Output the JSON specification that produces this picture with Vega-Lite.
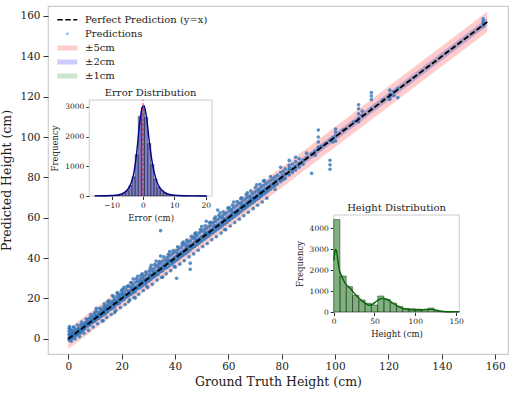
{
  "$schema": "https://vega.github.io/schema/vega-lite/v6.json",
  "width": 460,
  "height": 348,
  "autosize": {"type": "none"},
  "padding": {"left": 48, "top": 6, "right": 6, "bottom": 39},
  "background": "white",
  "config": {
    "font": "DejaVu Serif",
    "view": {"stroke": "#cccccc", "strokeWidth": 1.2},
    "axis": {"domain": false, "grid": false, "labelFlush": false, "tickColor": "#333333", "labelColor": "#222222", "titleColor": "#222222", "titleFontWeight": "normal"},
    "legend": {"labelFont": "DejaVu Serif", "labelFontSize": 10, "labelColor": "#222222"}
  },
  "datasets": {
    "pts": [
      {"g":0.3,"p":0.5},{"g":0.3,"p":2.1},{"g":0.3,"p":3.8},{"g":0.3,"p":5.2},{"g":0.3,"p":-0.4},
      {"g":0.8,"p":1.2},{"g":0.8,"p":2.9},{"g":0.8,"p":4.6},{"g":0.8,"p":0.1},
      {"g":1.5,"p":1.0},{"g":1.5,"p":2.6},{"g":1.5,"p":4.1},{"g":1.5,"p":0.2},
      {"g":2.2,"p":2.5},{"g":2.2,"p":3.9},{"g":2.2,"p":1.4},{"g":2.2,"p":5.6},
      {"g":3.0,"p":3.1},{"g":3.0,"p":4.5},{"g":3.0,"p":1.8},{"g":3.0,"p":2.2},
      {"g":3.8,"p":4.0},{"g":3.8,"p":5.4},{"g":3.8,"p":2.7},{"g":3.8,"p":3.3},
      {"g":4.6,"p":4.9},{"g":4.6,"p":6.8},{"g":4.6,"p":3.6},{"g":4.6,"p":2.9},
      {"g":5.5,"p":5.8},{"g":5.5,"p":4.2},{"g":5.5,"p":7.1},{"g":5.5,"p":5.0},
      {"g":6.3,"p":6.0},{"g":6.3,"p":7.9},{"g":6.3,"p":5.1},{"g":6.3,"p":6.6},
      {"g":7.2,"p":7.5},{"g":7.2,"p":9.6},{"g":7.2,"p":6.4},{"g":7.2,"p":8.0},
      {"g":8.0,"p":8.4},{"g":8.0,"p":6.9},{"g":8.0,"p":10.3},{"g":8.0,"p":7.8},
      {"g":8.9,"p":9.1},{"g":8.9,"p":11.2},{"g":8.9,"p":8.0},{"g":8.9,"p":9.7},
      {"g":9.7,"p":10.2},{"g":9.7,"p":8.6},{"g":9.7,"p":12.4},{"g":9.7,"p":9.3},
      {"g":10.5,"p":10.8},{"g":10.5,"p":13.9},{"g":10.5,"p":9.5},{"g":10.5,"p":11.5},{"g":10.5,"p":15.2},
      {"g":11.4,"p":11.9},{"g":11.4,"p":10.1},{"g":11.4,"p":13.0},{"g":11.4,"p":12.2},
      {"g":12.3,"p":12.0},{"g":12.3,"p":14.5},{"g":12.3,"p":11.1},{"g":12.3,"p":13.4},
      {"g":13.1,"p":13.6},{"g":13.1,"p":11.8},{"g":13.1,"p":15.9},{"g":13.1,"p":8.9},
      {"g":14.0,"p":14.2},{"g":14.0,"p":12.5},{"g":14.0,"p":16.3},{"g":14.0,"p":15.1},
      {"g":14.8,"p":15.3},{"g":14.8,"p":13.4},{"g":14.8,"p":17.0},{"g":14.8,"p":18.5},
      {"g":15.7,"p":16.0},{"g":15.7,"p":14.6},{"g":15.7,"p":17.8},{"g":15.7,"p":15.2},
      {"g":16.5,"p":16.9},{"g":16.5,"p":15.0},{"g":16.5,"p":18.7},{"g":16.5,"p":21.5},
      {"g":17.4,"p":17.1},{"g":17.4,"p":19.6},{"g":17.4,"p":15.8},{"g":17.4,"p":13.0},
      {"g":18.3,"p":18.8},{"g":18.3,"p":20.9},{"g":18.3,"p":17.2},{"g":18.3,"p":22.9},
      {"g":19.1,"p":19.5},{"g":19.1,"p":17.6},{"g":19.1,"p":21.8},{"g":19.1,"p":20.3},
      {"g":20.0,"p":20.6},{"g":20.0,"p":18.9},{"g":20.0,"p":22.4},{"g":20.0,"p":24.0},
      {"g":20.9,"p":21.2},{"g":20.9,"p":19.4},{"g":20.9,"p":23.1},{"g":20.9,"p":25.5},
      {"g":21.7,"p":22.0},{"g":21.7,"p":24.3},{"g":21.7,"p":20.5},{"g":21.7,"p":21.4},
      {"g":22.6,"p":23.5},{"g":22.6,"p":21.3},{"g":22.6,"p":26.2},{"g":22.6,"p":18.4},
      {"g":23.4,"p":23.9},{"g":23.4,"p":22.0},{"g":23.4,"p":25.8},{"g":23.4,"p":27.9},
      {"g":24.3,"p":24.8},{"g":24.3,"p":22.9},{"g":24.3,"p":26.7},{"g":24.3,"p":24.0},{"g":24.3,"p":29.7},
      {"g":25.1,"p":25.6},{"g":25.1,"p":23.4},{"g":25.1,"p":28.0},{"g":25.1,"p":20.2},
      {"g":26.0,"p":26.3},{"g":26.0,"p":28.5},{"g":26.0,"p":24.9},{"g":26.0,"p":31.0},
      {"g":26.9,"p":27.4},{"g":26.9,"p":25.3},{"g":26.9,"p":29.6},{"g":26.9,"p":27.0},
      {"g":27.7,"p":28.1},{"g":27.7,"p":26.2},{"g":27.7,"p":30.4},{"g":27.7,"p":32.2},
      {"g":28.6,"p":28.9},{"g":28.6,"p":27.1},{"g":28.6,"p":31.3},{"g":28.6,"p":29.5},
      {"g":29.4,"p":29.8},{"g":29.4,"p":27.9},{"g":29.4,"p":32.1},{"g":29.4,"p":26.0},
      {"g":30.3,"p":30.9},{"g":30.3,"p":28.7},{"g":30.3,"p":33.5},{"g":30.3,"p":30.1},
      {"g":31.1,"p":31.5},{"g":31.1,"p":29.6},{"g":31.1,"p":34.0},{"g":31.1,"p":36.5},
      {"g":32.0,"p":32.4},{"g":32.0,"p":30.5},{"g":32.0,"p":34.7},{"g":32.0,"p":33.0},
      {"g":32.9,"p":33.2},{"g":32.9,"p":31.4},{"g":32.9,"p":35.8},{"g":32.9,"p":38.6},
      {"g":33.7,"p":34.1},{"g":33.7,"p":32.0},{"g":33.7,"p":36.9},{"g":33.7,"p":33.5},
      {"g":34.6,"p":35.0},{"g":34.6,"p":33.2},{"g":34.6,"p":37.4},{"g":34.6,"p":41.0},{"g":34.6,"p":53.6},
      {"g":35.4,"p":35.9},{"g":35.4,"p":33.8},{"g":35.4,"p":38.5},{"g":35.4,"p":30.6},
      {"g":36.3,"p":36.7},{"g":36.3,"p":34.9},{"g":36.3,"p":39.2},{"g":36.3,"p":37.0},
      {"g":37.1,"p":37.6},{"g":37.1,"p":35.4},{"g":37.1,"p":40.3},{"g":37.1,"p":38.2},
      {"g":38.0,"p":38.5},{"g":38.0,"p":36.3},{"g":38.0,"p":41.1},{"g":38.0,"p":43.2},
      {"g":38.9,"p":39.3},{"g":38.9,"p":37.2},{"g":38.9,"p":42.0},{"g":38.9,"p":38.4},
      {"g":39.7,"p":40.2},{"g":39.7,"p":38.1},{"g":39.7,"p":42.8},{"g":39.7,"p":36.0},
      {"g":40.6,"p":41.0},{"g":40.6,"p":38.9},{"g":40.6,"p":43.7},{"g":40.6,"p":30.0},
      {"g":41.4,"p":41.9},{"g":41.4,"p":39.8},{"g":41.4,"p":44.5},{"g":41.4,"p":40.9},
      {"g":42.3,"p":42.8},{"g":42.3,"p":40.7},{"g":42.3,"p":45.3},{"g":42.3,"p":42.0},
      {"g":43.1,"p":43.6},{"g":43.1,"p":41.5},{"g":43.1,"p":46.4},{"g":43.1,"p":48.0},
      {"g":44.0,"p":44.5},{"g":44.0,"p":42.2},{"g":44.0,"p":47.0},{"g":44.0,"p":44.0},
      {"g":44.9,"p":45.3},{"g":44.9,"p":43.1},{"g":44.9,"p":47.9},{"g":44.9,"p":45.8},
      {"g":45.7,"p":46.2},{"g":45.7,"p":44.0},{"g":45.7,"p":48.6},{"g":45.7,"p":34.5},{"g":45.7,"p":37.5},
      {"g":46.6,"p":47.0},{"g":46.6,"p":45.1},{"g":46.6,"p":49.8},{"g":46.6,"p":46.4},
      {"g":47.4,"p":47.9},{"g":47.4,"p":45.8},{"g":47.4,"p":50.5},{"g":47.4,"p":52.0},
      {"g":48.3,"p":48.7},{"g":48.3,"p":46.6},{"g":48.3,"p":51.2},{"g":48.3,"p":48.1},
      {"g":49.1,"p":49.6},{"g":49.1,"p":47.5},{"g":49.1,"p":52.4},{"g":49.1,"p":49.0},
      {"g":50.0,"p":50.5},{"g":50.0,"p":48.3},{"g":50.0,"p":53.3},{"g":50.0,"p":55.6},
      {"g":50.9,"p":51.2},{"g":50.9,"p":49.2},{"g":50.9,"p":54.0},{"g":50.9,"p":51.5},
      {"g":51.7,"p":52.2},{"g":51.7,"p":50.1},{"g":51.7,"p":54.7},{"g":51.7,"p":58.3},
      {"g":52.6,"p":53.0},{"g":52.6,"p":50.8},{"g":52.6,"p":55.6},{"g":52.6,"p":52.4},
      {"g":53.4,"p":53.9},{"g":53.4,"p":51.9},{"g":53.4,"p":56.3},{"g":53.4,"p":57.8},
      {"g":54.3,"p":54.7},{"g":54.3,"p":52.6},{"g":54.3,"p":57.5},{"g":54.3,"p":54.1},
      {"g":55.1,"p":55.6},{"g":55.1,"p":53.4},{"g":55.1,"p":58.2},{"g":55.1,"p":60.4},
      {"g":56.0,"p":56.4},{"g":56.0,"p":54.3},{"g":56.0,"p":59.1},{"g":56.0,"p":56.0},{"g":56.0,"p":63.8},
      {"g":56.9,"p":57.3},{"g":56.9,"p":55.2},{"g":56.9,"p":60.0},{"g":56.9,"p":62.5},
      {"g":57.7,"p":58.1},{"g":57.7,"p":56.0},{"g":57.7,"p":60.8},{"g":57.7,"p":57.4},
      {"g":58.6,"p":59.0},{"g":58.6,"p":56.8},{"g":58.6,"p":61.7},{"g":58.6,"p":54.2},
      {"g":59.4,"p":59.9},{"g":59.4,"p":57.7},{"g":59.4,"p":62.5},{"g":59.4,"p":59.1},
      {"g":60.3,"p":60.7},{"g":60.3,"p":58.6},{"g":60.3,"p":63.4},{"g":60.3,"p":65.0},
      {"g":61.1,"p":61.6},{"g":61.1,"p":59.5},{"g":61.1,"p":64.1},{"g":61.1,"p":60.9},
      {"g":62.0,"p":62.4},{"g":62.0,"p":60.3},{"g":62.0,"p":65.0},{"g":62.0,"p":67.8},
      {"g":62.9,"p":63.3},{"g":62.9,"p":61.2},{"g":62.9,"p":65.9},{"g":62.9,"p":62.7},
      {"g":63.7,"p":64.1},{"g":63.7,"p":62.0},{"g":63.7,"p":66.8},{"g":63.7,"p":63.5},
      {"g":64.6,"p":65.0},{"g":64.6,"p":62.9},{"g":64.6,"p":67.4},{"g":64.6,"p":69.5},
      {"g":65.4,"p":65.9},{"g":65.4,"p":63.8},{"g":65.4,"p":68.3},{"g":65.4,"p":65.2},
      {"g":66.3,"p":66.7},{"g":66.3,"p":64.6},{"g":66.3,"p":69.2},{"g":66.3,"p":66.0},
      {"g":67.1,"p":67.6},{"g":67.1,"p":65.5},{"g":67.1,"p":70.1},{"g":67.1,"p":72.4},
      {"g":68.0,"p":68.4},{"g":68.0,"p":66.3},{"g":68.0,"p":70.8},{"g":68.0,"p":68.1},
      {"g":68.9,"p":69.3},{"g":68.9,"p":67.2},{"g":68.9,"p":71.8},{"g":68.9,"p":69.0},
      {"g":69.7,"p":70.1},{"g":69.7,"p":68.0},{"g":69.7,"p":72.6},{"g":69.7,"p":70.0},
      {"g":70.6,"p":71.0},{"g":70.6,"p":68.9},{"g":70.6,"p":73.4},{"g":70.6,"p":76.3},
      {"g":71.4,"p":71.9},{"g":71.4,"p":69.7},{"g":71.4,"p":74.2},{"g":71.4,"p":71.3},
      {"g":72.3,"p":72.7},{"g":72.3,"p":70.6},{"g":72.3,"p":75.1},{"g":72.3,"p":72.1},
      {"g":73.1,"p":73.6},{"g":73.1,"p":71.5},{"g":73.1,"p":76.0},{"g":73.1,"p":78.2},
      {"g":74.0,"p":74.4},{"g":74.0,"p":72.3},{"g":74.0,"p":76.9},{"g":74.0,"p":74.1},
      {"g":74.9,"p":75.3},{"g":74.9,"p":73.2},{"g":74.9,"p":77.7},{"g":74.9,"p":75.0},
      {"g":75.8,"p":76.2},{"g":75.8,"p":74.1},{"g":75.8,"p":78.6},{"g":75.8,"p":80.4},
      {"g":76.7,"p":77.0},{"g":76.7,"p":75.2},{"g":76.7,"p":79.4},
      {"g":77.5,"p":78.0},{"g":77.5,"p":75.9},{"g":77.5,"p":80.3},{"g":77.5,"p":74.0},
      {"g":78.4,"p":78.8},{"g":78.4,"p":76.7},{"g":78.4,"p":81.1},
      {"g":79.6,"p":80.0},{"g":79.6,"p":77.9},{"g":79.6,"p":82.4},{"g":79.6,"p":85.0},
      {"g":80.5,"p":80.9},{"g":80.5,"p":78.8},{"g":80.5,"p":83.0},
      {"g":81.3,"p":81.8},{"g":81.3,"p":79.5},{"g":81.3,"p":84.2},
      {"g":82.8,"p":83.5},{"g":82.8,"p":86.0},{"g":82.8,"p":88.4},{"g":82.8,"p":81.2},{"g":82.8,"p":84.7},
      {"g":84.0,"p":84.3},{"g":84.0,"p":82.4},{"g":84.0,"p":86.6},
      {"g":85.2,"p":85.5},{"g":85.2,"p":83.6},{"g":85.2,"p":87.8},{"g":85.2,"p":90.0},
      {"g":86.5,"p":86.9},{"g":86.5,"p":85.0},{"g":86.5,"p":89.2},
      {"g":88.0,"p":88.4},{"g":88.0,"p":86.5},
      {"g":89.3,"p":89.7},{"g":89.3,"p":92.0},
      {"g":91.2,"p":82.0},{"g":91.2,"p":91.6},
      {"g":92.5,"p":92.9},{"g":92.5,"p":91.0},
      {"g":93.7,"p":95.0},{"g":93.7,"p":97.5},{"g":93.7,"p":100.0},{"g":93.7,"p":103.5},{"g":93.7,"p":93.9},
      {"g":95.0,"p":95.4},{"g":96.4,"p":96.8},
      {"g":98.1,"p":84.0},{"g":98.1,"p":86.2},{"g":98.1,"p":88.5},{"g":98.1,"p":98.4},
      {"g":99.2,"p":99.6},{"g":99.2,"p":97.5},
      {"g":100.2,"p":100.5},{"g":100.2,"p":98.0},{"g":100.2,"p":102.5},{"g":100.2,"p":104.0},
      {"g":103.0,"p":103.4},
      {"g":107.0,"p":107.4},
      {"g":108.8,"p":109.2},{"g":108.8,"p":111.5},{"g":108.8,"p":114.0},{"g":108.8,"p":116.0},{"g":108.8,"p":107.5},
      {"g":110.2,"p":110.6},{"g":110.2,"p":112.8},
      {"g":113.6,"p":118.5},{"g":113.6,"p":120.3},{"g":113.6,"p":122.0},{"g":113.6,"p":114.0},
      {"g":118.0,"p":118.4},
      {"g":120.5,"p":118.6},{"g":120.5,"p":121.0},{"g":120.5,"p":123.2},{"g":120.5,"p":120.0},
      {"g":122.0,"p":122.4},{"g":122.0,"p":120.5},
      {"g":123.5,"p":124.0},{"g":123.5,"p":119.5},
      {"g":155.5,"p":155.0},{"g":155.5,"p":157.3},{"g":155.5,"p":158.5},{"g":155.5,"p":156.2},
      {"g":0.5,"p":6.1},{"g":1.1,"p":-1.2},{"g":1.9,"p":5.9},{"g":2.6,"p":0.0},{"g":3.4,"p":6.9},{"g":4.2,"p":1.1},
      {"g":5.0,"p":8.3},{"g":5.9,"p":2.8},{"g":6.7,"p":9.8},{"g":7.6,"p":4.2},{"g":8.4,"p":12.0},{"g":9.3,"p":5.9},
      {"g":10.1,"p":13.2},{"g":11.0,"p":7.5},{"g":11.8,"p":15.1},{"g":12.7,"p":9.0},{"g":13.5,"p":17.4},{"g":14.4,"p":10.6},
      {"g":15.2,"p":18.9},{"g":16.1,"p":12.1},{"g":17.0,"p":20.8},{"g":17.8,"p":14.0},{"g":18.7,"p":22.3},{"g":19.5,"p":15.5},
      {"g":20.4,"p":24.6},{"g":21.3,"p":17.0},{"g":22.1,"p":26.0},{"g":23.0,"p":19.3},{"g":23.8,"p":27.7},{"g":24.7,"p":20.6},
      {"g":25.5,"p":29.8},{"g":26.4,"p":22.1},{"g":27.3,"p":31.5},{"g":28.1,"p":23.9},{"g":29.0,"p":33.1},{"g":29.8,"p":25.4},
      {"g":30.7,"p":35.2},{"g":31.5,"p":27.0},{"g":32.4,"p":36.9},{"g":33.3,"p":29.1},{"g":34.1,"p":38.3},{"g":35.0,"p":30.4},
      {"g":35.8,"p":40.6},{"g":36.7,"p":32.2},{"g":37.5,"p":41.9},{"g":38.4,"p":33.8},{"g":39.3,"p":43.7},{"g":40.1,"p":35.5},
      {"g":41.0,"p":45.6},{"g":41.8,"p":37.0},{"g":42.7,"p":47.3},{"g":43.5,"p":38.7},{"g":44.4,"p":48.9},{"g":45.3,"p":40.6},
      {"g":46.1,"p":50.8},{"g":47.0,"p":42.1},{"g":47.8,"p":52.6},{"g":48.7,"p":43.9},{"g":49.5,"p":54.2},{"g":50.4,"p":45.7},
      {"g":51.3,"p":56.0},{"g":52.1,"p":47.2},{"g":53.0,"p":57.6},{"g":53.8,"p":49.1},{"g":54.7,"p":59.5},{"g":55.5,"p":50.6},
      {"g":56.4,"p":61.2},{"g":57.3,"p":52.4},{"g":58.1,"p":62.9},{"g":59.0,"p":54.0},{"g":59.8,"p":64.8},{"g":60.7,"p":55.9},
      {"g":61.5,"p":66.3},{"g":62.4,"p":57.6},{"g":63.3,"p":68.0},{"g":64.1,"p":59.3},{"g":65.0,"p":69.9},{"g":65.8,"p":61.0},
      {"g":66.7,"p":71.5},{"g":67.5,"p":62.7},{"g":68.4,"p":73.3},{"g":69.3,"p":64.5},{"g":70.1,"p":75.0},{"g":71.0,"p":66.2},
      {"g":71.8,"p":76.6},{"g":72.7,"p":67.8},{"g":73.5,"p":78.4},{"g":74.4,"p":69.7},
      {"g":0.5,"p":1.6},{"g":1.9,"p":2.7},{"g":3.4,"p":4.4},{"g":5.0,"p":4.6},{"g":6.7,"p":7.9},{"g":8.4,"p":8.1},
      {"g":10.1,"p":11.2},{"g":11.8,"p":11.3},{"g":13.5,"p":14.6},{"g":15.2,"p":14.9},{"g":17.0,"p":18.1},{"g":18.7,"p":18.2},
      {"g":20.4,"p":21.7},{"g":22.1,"p":21.8},{"g":23.8,"p":25.0},{"g":25.5,"p":25.1},{"g":27.3,"p":28.6},{"g":29.0,"p":28.7},
      {"g":30.7,"p":32.0},{"g":32.4,"p":32.0},{"g":34.1,"p":35.3},{"g":35.8,"p":35.6},{"g":37.5,"p":38.9},{"g":39.3,"p":39.0},
      {"g":41.0,"p":42.3},{"g":42.7,"p":42.4},{"g":44.4,"p":45.6},{"g":46.1,"p":45.8},{"g":47.8,"p":49.2},{"g":49.5,"p":49.1},
      {"g":51.3,"p":52.7},{"g":53.0,"p":52.6},{"g":54.7,"p":56.0},{"g":56.4,"p":56.1},{"g":58.1,"p":59.5},{"g":59.8,"p":59.4},
      {"g":61.5,"p":62.8},{"g":63.3,"p":63.0},{"g":65.0,"p":66.4},{"g":66.7,"p":66.3},{"g":68.4,"p":69.8},{"g":70.1,"p":69.7},
      {"g":71.8,"p":73.2},{"g":73.5,"p":73.1}
    ],
    "bands": [
      {"band":"±5cm","g":0,"lo":-5,"hi":5},{"band":"±5cm","g":157,"lo":152,"hi":162},
      {"band":"±2cm","g":0,"lo":-2,"hi":2},{"band":"±2cm","g":157,"lo":155,"hi":159},
      {"band":"±1cm","g":0,"lo":-1,"hi":1},{"band":"±1cm","g":157,"lo":156,"hi":158}
    ],
    "diag": [{"g":0,"p":0},{"g":157,"p":157}],
    "errh": [
      {"lo":-15.5,"hi":-14.5,"n":2},{"lo":-14.5,"hi":-13.5,"n":3},{"lo":-13.5,"hi":-12.5,"n":4},{"lo":-12.5,"hi":-11.5,"n":5},
      {"lo":-11.5,"hi":-10.5,"n":7},{"lo":-10.5,"hi":-9.5,"n":10},{"lo":-9.5,"hi":-8.5,"n":18},{"lo":-8.5,"hi":-7.5,"n":30},
      {"lo":-7.5,"hi":-6.5,"n":55},{"lo":-6.5,"hi":-5.5,"n":110},{"lo":-5.5,"hi":-4.5,"n":185},{"lo":-4.5,"hi":-3.5,"n":350},
      {"lo":-3.5,"hi":-2.5,"n":645},{"lo":-2.5,"hi":-1.5,"n":1390},{"lo":-1.5,"hi":-0.5,"n":2680},{"lo":-0.5,"hi":0.5,"n":2995},
      {"lo":0.5,"hi":1.5,"n":2645},{"lo":1.5,"hi":2.5,"n":1770},{"lo":2.5,"hi":3.5,"n":1060},{"lo":3.5,"hi":4.5,"n":570},
      {"lo":4.5,"hi":5.5,"n":295},{"lo":5.5,"hi":6.5,"n":185},{"lo":6.5,"hi":7.5,"n":110},{"lo":7.5,"hi":8.5,"n":65},
      {"lo":8.5,"hi":9.5,"n":40},{"lo":9.5,"hi":10.5,"n":25},{"lo":10.5,"hi":11.5,"n":16},{"lo":11.5,"hi":12.5,"n":10},
      {"lo":12.5,"hi":13.5,"n":7},{"lo":13.5,"hi":14.5,"n":5},{"lo":14.5,"hi":15.5,"n":4},{"lo":15.5,"hi":16.5,"n":3},
      {"lo":16.5,"hi":17.5,"n":2},{"lo":17.5,"hi":18.5,"n":2},{"lo":18.5,"hi":19.5,"n":1},{"lo":19.5,"hi":20.5,"n":1}
    ],
    "errk": [
      {"e":-15.3,"d":3},{"e":-12,"d":8},{"e":-10,"d":15},{"e":-8,"d":35},{"e":-7,"d":60},{"e":-6,"d":110},
      {"e":-5,"d":200},{"e":-4,"d":380},{"e":-3,"d":720},{"e":-2,"d":1450},{"e":-1,"d":2500},{"e":-0.3,"d":2950},
      {"e":0.3,"d":3050},{"e":1,"d":2750},{"e":2,"d":1850},{"e":3,"d":1100},{"e":4,"d":620},{"e":5,"d":340},
      {"e":6,"d":200},{"e":7,"d":115},{"e":8,"d":65},{"e":10,"d":25},{"e":13,"d":8},{"e":16,"d":4},{"e":20.2,"d":2}
    ],
    "hth": [
      {"lo":0,"hi":7.7,"n":4414},{"lo":7.7,"hi":15.4,"n":1721},{"lo":15.4,"hi":23.1,"n":1211},{"lo":23.1,"hi":30.8,"n":797},
      {"lo":30.8,"hi":38.5,"n":574},{"lo":38.5,"hi":46.2,"n":420},{"lo":46.2,"hi":53.9,"n":335},{"lo":53.9,"hi":61.6,"n":765},
      {"lo":61.6,"hi":69.3,"n":605},{"lo":69.3,"hi":77,"n":430},{"lo":77,"hi":84.7,"n":270},{"lo":84.7,"hi":92.4,"n":175},
      {"lo":92.4,"hi":100.1,"n":160},{"lo":100.1,"hi":107.8,"n":143},{"lo":107.8,"hi":115.5,"n":110},{"lo":115.5,"hi":123.2,"n":190},
      {"lo":123.2,"hi":130.9,"n":35},{"lo":130.9,"hi":138.6,"n":12},{"lo":138.6,"hi":146.3,"n":5},{"lo":146.3,"hi":154,"n":25}
    ],
    "htk": [
      {"h":0,"d":2450},{"h":1,"d":2750},{"h":2.2,"d":2980},{"h":3.5,"d":2900},{"h":5,"d":2500},{"h":6.6,"d":2060},
      {"h":9.4,"d":1750},{"h":14.3,"d":1350},{"h":20,"d":1150},{"h":25,"d":900},{"h":30,"d":700},{"h":35,"d":520},
      {"h":40,"d":390},{"h":44,"d":320},{"h":48,"d":380},{"h":52,"d":500},{"h":56,"d":600},{"h":60,"d":650},
      {"h":64,"d":620},{"h":68,"d":540},{"h":72,"d":440},{"h":76,"d":340},{"h":80,"d":250},{"h":85,"d":170},
      {"h":90,"d":125},{"h":95,"d":100},{"h":100,"d":92},{"h":105,"d":95},{"h":110,"d":110},{"h":115,"d":125},
      {"h":120,"d":125},{"h":125,"d":95},{"h":130,"d":50},{"h":135,"d":22},{"h":140,"d":12},{"h":145,"d":8},
      {"h":150,"d":6},{"h":154,"d":5}
    ],
    "one": [{}]
  },
  "layer": [
    {
      "data": {"name": "bands"},
      "mark": {"type": "area", "opacity": 0.2},
      "encoding": {
        "x": {"field": "g", "type": "quantitative", "scale": {"domain": [-7.6, 164.8], "nice": false, "zero": false}, "axis": null},
        "y": {"field": "lo", "type": "quantitative", "scale": {"domain": [-7.5, 164.9], "nice": false, "zero": false}, "axis": null},
        "y2": {"field": "hi"},
        "fill": {"field": "band", "type": "nominal", "sort": ["±5cm", "±2cm", "±1cm"],
          "scale": {"domain": ["±5cm", "±2cm", "±1cm"], "range": ["#ff0000", "#0000ff", "#008000"]},
          "legend": {"orient": "none", "legendX": 14.3, "legendY": 37, "title": null, "padding": 0,
            "symbolType": "M-2,-0.5H2V0.5H-2Z", "symbolSize": 100, "symbolOpacity": 0.2, "symbolStrokeWidth": 0,
            "labelOffset": 12.7, "rowPadding": 4}}
      }
    },
    {
      "data": {"name": "pts"},
      "mark": {"type": "point", "filled": true, "size": 13, "opacity": 0.8, "color": "#2a74b8"},
      "encoding": {
        "x": {"field": "g", "type": "quantitative", "scale": {"domain": [-7.6, 164.8], "nice": false, "zero": false},
          "axis": {"orient": "bottom", "title": "Ground Truth Height (cm)", "values": [0, 20, 40, 60, 80, 100, 120, 140, 160], "format": "d",
            "labelFontSize": 10.5, "titleFontSize": 12.5, "tickSize": 5, "labelPadding": 2, "titlePadding": 4}},
        "y": {"field": "p", "type": "quantitative", "scale": {"domain": [-7.5, 164.9], "nice": false, "zero": false},
          "axis": {"orient": "left", "title": "Predicted Height (cm)", "values": [0, 20, 40, 60, 80, 100, 120, 140, 160], "format": "d",
            "labelFontSize": 10.5, "titleFontSize": 12.5, "tickSize": 5, "labelPadding": 3, "titlePadding": 6}},
        "shape": {"datum": "Predictions", "scale": {"range": ["circle"]},
          "legend": {"orient": "none", "legendX": 14.3, "legendY": 22.7, "title": null, "padding": 0,
            "symbolSize": 9, "symbolFillColor": "#1f77b4", "symbolOpacity": 0.45, "symbolStrokeWidth": 0, "labelOffset": 12.7}}
      }
    },
    {
      "data": {"name": "diag"},
      "mark": {"type": "line", "color": "black", "strokeWidth": 1.8},
      "encoding": {
        "x": {"field": "g", "type": "quantitative", "scale": {"domain": [-7.6, 164.8], "nice": false, "zero": false}, "axis": null},
        "y": {"field": "p", "type": "quantitative", "scale": {"domain": [-7.5, 164.9], "nice": false, "zero": false}, "axis": null},
        "strokeDash": {"datum": "Perfect Prediction (y=x)", "scale": {"range": [[5.5, 2.5]]},
          "legend": {"orient": "none", "legendX": 8.3, "legendY": 2.7, "title": null, "padding": 0,
            "symbolType": "stroke", "symbolSize": 400, "symbolStrokeColor": "black", "symbolStrokeWidth": 1.5, "labelOffset": 6.7}}
      }
    },
    {
      "data": {"name": "one"},
      "mark": {"type": "rect", "fill": "white", "stroke": "#cccccc", "strokeWidth": 1},
      "encoding": {
        "x": {"datum": -17.1, "type": "quantitative", "scale": {"domain": [-17.1, 22], "range": [41.3, 164], "nice": false, "zero": false}, "axis": null},
        "x2": {"datum": 22},
        "y": {"datum": 0, "type": "quantitative", "scale": {"domain": [0, 3230], "range": [190, 94], "nice": false, "zero": false}, "axis": null},
        "y2": {"datum": 3230}
      }
    },
    {
      "data": {"name": "errh"},
      "mark": {"type": "rect", "fill": "#00008b", "fillOpacity": 0.5, "stroke": "#111111", "strokeWidth": 0.5, "strokeOpacity": 0.8},
      "encoding": {
        "x": {"field": "lo", "type": "quantitative", "scale": {"domain": [-17.1, 22], "range": [41.3, 164], "nice": false, "zero": false},
          "axis": {"orient": "bottom", "offset": -158, "title": "Error (cm)", "values": [-10, 0, 10, 20], "format": "d",
            "labelFontSize": 7.5, "titleFontSize": 8.5, "tickSize": 3.5, "labelPadding": 2, "titlePadding": 4}},
        "x2": {"field": "hi"},
        "y": {"field": "n", "type": "quantitative", "scale": {"domain": [0, 3230], "range": [190, 94], "nice": false, "zero": false},
          "axis": {"orient": "left", "offset": -41.3, "title": "Frequency", "values": [0, 1000, 2000, 3000], "format": "d",
            "labelFontSize": 7.5, "titleFontSize": 8.5, "tickSize": 3.5, "labelPadding": 2, "titlePadding": 5}},
        "y2": {"datum": 0}
      }
    },
    {
      "data": {"name": "errk"},
      "mark": {"type": "line", "color": "#00008b", "strokeWidth": 1.4, "interpolate": "monotone"},
      "encoding": {
        "x": {"field": "e", "type": "quantitative", "scale": {"domain": [-17.1, 22], "range": [41.3, 164], "nice": false, "zero": false}, "axis": null},
        "y": {"field": "d", "type": "quantitative", "scale": {"domain": [0, 3230], "range": [190, 94], "nice": false, "zero": false}, "axis": null}
      }
    },
    {
      "data": {"name": "one"},
      "mark": {"type": "rule", "color": "red", "opacity": 0.75, "strokeWidth": 1, "strokeDash": [3, 2]},
      "encoding": {
        "x": {"datum": 0, "type": "quantitative", "scale": {"domain": [-17.1, 22], "range": [41.3, 164], "nice": false, "zero": false}, "axis": null},
        "y": {"datum": 0, "type": "quantitative", "scale": {"domain": [0, 3230], "range": [190, 94], "nice": false, "zero": false}, "axis": null},
        "y2": {"datum": 3230}
      }
    },
    {
      "data": {"name": "one"},
      "mark": {"type": "text", "text": "Error Distribution", "fontSize": 10, "color": "#222222", "baseline": "bottom", "dy": -2},
      "encoding": {
        "x": {"datum": 2.45, "type": "quantitative", "scale": {"domain": [-17.1, 22], "range": [41.3, 164], "nice": false, "zero": false}, "axis": null},
        "y": {"datum": 3230, "type": "quantitative", "scale": {"domain": [0, 3230], "range": [190, 94], "nice": false, "zero": false}, "axis": null}
      }
    },
    {
      "data": {"name": "one"},
      "mark": {"type": "rect", "fill": "white", "stroke": "#cccccc", "strokeWidth": 1},
      "encoding": {
        "x": {"datum": 0, "type": "quantitative", "scale": {"domain": [0, 154], "range": [285.7, 411.3], "nice": false, "zero": false}, "axis": null},
        "x2": {"datum": 154},
        "y": {"datum": 0, "type": "quantitative", "scale": {"domain": [0, 4630], "range": [306, 209], "nice": false, "zero": false}, "axis": null},
        "y2": {"datum": 4630}
      }
    },
    {
      "data": {"name": "hth"},
      "mark": {"type": "rect", "fill": "#006400", "fillOpacity": 0.5, "stroke": "#111111", "strokeWidth": 0.5, "strokeOpacity": 0.8},
      "encoding": {
        "x": {"field": "lo", "type": "quantitative", "scale": {"domain": [0, 154], "range": [285.7, 411.3], "nice": false, "zero": false},
          "axis": {"orient": "bottom", "offset": -42, "title": "Height (cm)", "values": [0, 50, 100, 150], "format": "d",
            "labelFontSize": 7.5, "titleFontSize": 8.5, "tickSize": 3.5, "labelPadding": 2, "titlePadding": 4}},
        "x2": {"field": "hi"},
        "y": {"field": "n", "type": "quantitative", "scale": {"domain": [0, 4630], "range": [306, 209], "nice": false, "zero": false},
          "axis": {"orient": "left", "offset": -285.7, "title": "Frequency", "values": [0, 1000, 2000, 3000, 4000], "format": "d",
            "labelFontSize": 7.5, "titleFontSize": 8.5, "tickSize": 3.5, "labelPadding": 2, "titlePadding": 5}},
        "y2": {"datum": 0}
      }
    },
    {
      "data": {"name": "htk"},
      "mark": {"type": "line", "color": "#006400", "strokeWidth": 1.4, "interpolate": "monotone"},
      "encoding": {
        "x": {"field": "h", "type": "quantitative", "scale": {"domain": [0, 154], "range": [285.7, 411.3], "nice": false, "zero": false}, "axis": null},
        "y": {"field": "d", "type": "quantitative", "scale": {"domain": [0, 4630], "range": [306, 209], "nice": false, "zero": false}, "axis": null}
      }
    },
    {
      "data": {"name": "one"},
      "mark": {"type": "text", "text": "Height Distribution", "fontSize": 10, "color": "#222222", "baseline": "bottom", "dy": -2},
      "encoding": {
        "x": {"datum": 77, "type": "quantitative", "scale": {"domain": [0, 154], "range": [285.7, 411.3], "nice": false, "zero": false}, "axis": null},
        "y": {"datum": 4630, "type": "quantitative", "scale": {"domain": [0, 4630], "range": [306, 209], "nice": false, "zero": false}, "axis": null}
      }
    }
  ],
  "resolve": {"scale": {"x": "independent", "y": "independent"}, "axis": {"x": "independent", "y": "independent"}}
}
